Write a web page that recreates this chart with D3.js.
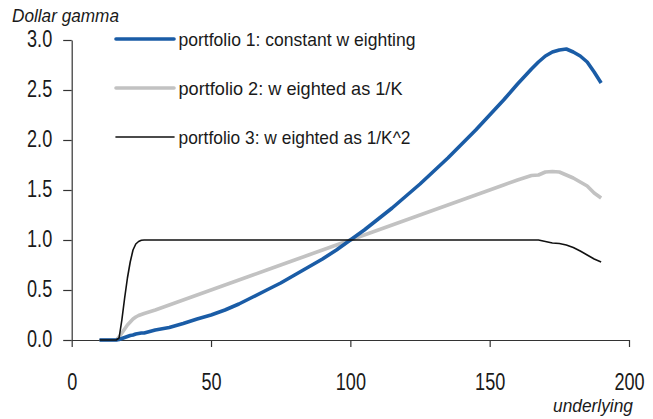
<!DOCTYPE html>
<html>
<head>
<meta charset="utf-8">
<script src="https://cdn.jsdelivr.net/npm/d3@7"></script>
<style>
  html, body { margin: 0; padding: 0; background: #fff; }
  svg { display: block; }
  text { font-family: Arial, "Liberation Sans", sans-serif; fill: #1a1a1a; }
</style>
</head>
<body>
<svg id="chart" width="653" height="419"></svg>
<script>
// ---- data ----
const underlying = [10, 16, 17, 18, 19, 20, 21, 22, 23, 24, 25, 26, 30, 35, 40, 45, 50, 55, 60, 65, 70, 75, 80, 85, 90, 95, 100,
  105, 110, 115, 120, 125, 130, 135, 140, 145, 150, 155, 160, 165, 167.5, 170, 172.5, 175, 177.5, 180, 182.5, 185, 187.5, 190];
const portfolio1 = [0, 0, 0.005, 0.015, 0.025, 0.035, 0.045, 0.05, 0.06, 0.065, 0.07, 0.07, 0.10, 0.125, 0.165, 0.21, 0.25, 0.30, 0.36, 0.43, 0.50, 0.57, 0.65, 0.73, 0.81, 0.90, 1.00,
  1.10, 1.21, 1.32, 1.44, 1.56, 1.69, 1.82, 1.96, 2.10, 2.25, 2.40, 2.56, 2.71, 2.78, 2.84, 2.88, 2.90, 2.91, 2.88, 2.84, 2.78, 2.68, 2.57];
const portfolio2 = [0, 0, 0.03, 0.07, 0.11, 0.15, 0.18, 0.21, 0.23, 0.245, 0.255, 0.265, 0.30, 0.35, 0.40, 0.45, 0.50, 0.55, 0.60, 0.65, 0.70, 0.75, 0.80, 0.85, 0.90, 0.95, 1.00,
  1.05, 1.10, 1.15, 1.20, 1.25, 1.30, 1.35, 1.40, 1.45, 1.50, 1.55, 1.60, 1.645, 1.65, 1.68, 1.685, 1.68, 1.65, 1.62, 1.58, 1.54, 1.47, 1.42];
const portfolio3 = [0, 0, 0.02, 0.2, 0.42, 0.62, 0.78, 0.90, 0.96, 0.985, 0.997, 1, 1, 1, 1, 1, 1, 1, 1, 1, 1, 1, 1, 1, 1, 1, 1,
  1, 1, 1, 1, 1, 1, 1, 1, 1, 1, 1, 1, 1, 1, 0.985, 0.97, 0.965, 0.95, 0.925, 0.89, 0.85, 0.81, 0.78];
const seriesNames = ["portfolio 1: constant w eighting", "portfolio 2: w eighted as 1/K", "portfolio 3: w eighted as 1/K^2"];
const xTickValues = [0, 50, 100, 150, 200];
const yTickValues = [0, 0.5, 1.0, 1.5, 2.0, 2.5, 3.0];
const yTitle = "Dollar gamma";
const xTitle = "underlying";

// ---- chart ----
const svg = d3.select("#chart");
const x = d3.scaleLinear().domain([0, 200]).range([71.7, 629]);
const y = d3.scaleLinear().domain([0, 3]).range([340, 40]);

const colors = ["#1a5ca6", "#c2c2c2", "#111111"];
const widths = [3.6, 3.6, 1.6];
const allSeries = [portfolio1, portfolio2, portfolio3];

function condense(sel, factor) {
  sel.each(function () {
    const w = this.getComputedTextLength();
    d3.select(this).attr("textLength", w * factor).attr("lengthAdjust", "spacingAndGlyphs");
  });
}

// axes
const xAxis = svg.append("g").attr("transform", "translate(0,340)")
  .call(d3.axisBottom(x).tickValues(xTickValues).tickFormat(d3.format("d")).tickSize(7).tickSizeOuter(0));
const yAxis = svg.append("g").attr("transform", "translate(71.7,0)")
  .call(d3.axisLeft(y).tickValues(yTickValues).tickFormat(d3.format(".1f")).tickSize(8.5).tickSizeOuter(0));

[xAxis, yAxis].forEach(g => {
  g.select(".domain").attr("stroke", "#333").attr("stroke-width", 1.2);
  g.selectAll(".tick line").attr("stroke", "#333").attr("stroke-width", 1.2);
  g.selectAll(".tick text").style("font-size", "23.5px").style("font-family", "Arial, 'Liberation Sans', sans-serif").attr("fill", "#1a1a1a");
});
xAxis.selectAll(".tick text").attr("y", 49.5).attr("dy", 0);
yAxis.selectAll(".tick text").attr("x", -19.5).attr("dy", 6);
condense(xAxis.selectAll(".tick text"), 0.77);
condense(yAxis.selectAll(".tick text"), 0.77);

// lines
const line = d3.line().x((d, i) => x(underlying[i])).y(d => y(d));
const order = [1, 0, 2];
order.forEach(k => {
  svg.append("path").datum(allSeries[k])
    .attr("fill", "none")
    .attr("stroke", colors[k])
    .attr("stroke-width", widths[k])
    .attr("stroke-linejoin", "round")
    .attr("d", line);
});

// legend
const legendY = [39, 88, 137];
const legendW = [237, 224, 232];
seriesNames.forEach((name, k) => {
  svg.append("line").attr("x1", 116).attr("x2", 174).attr("y1", legendY[k]).attr("y2", legendY[k])
    .attr("stroke", colors[k]).attr("stroke-width", widths[k]).attr("stroke-linecap", "round");
  svg.append("text").attr("x", 178.5).attr("y", legendY[k] + 6.8)
    .style("font-size", "19px")
    .attr("textLength", legendW[k]).attr("lengthAdjust", "spacingAndGlyphs")
    .text(name);
});

// titles
svg.append("text").attr("x", 12).attr("y", 22).style("font-size", "18.5px").style("font-style", "italic")
  .attr("textLength", 107).attr("lengthAdjust", "spacingAndGlyphs").text(yTitle);
svg.append("text").attr("x", 553).attr("y", 412).style("font-size", "18.5px").style("font-style", "italic")
  .attr("textLength", 80).attr("lengthAdjust", "spacingAndGlyphs").text(xTitle);
</script>
</body>
</html>
